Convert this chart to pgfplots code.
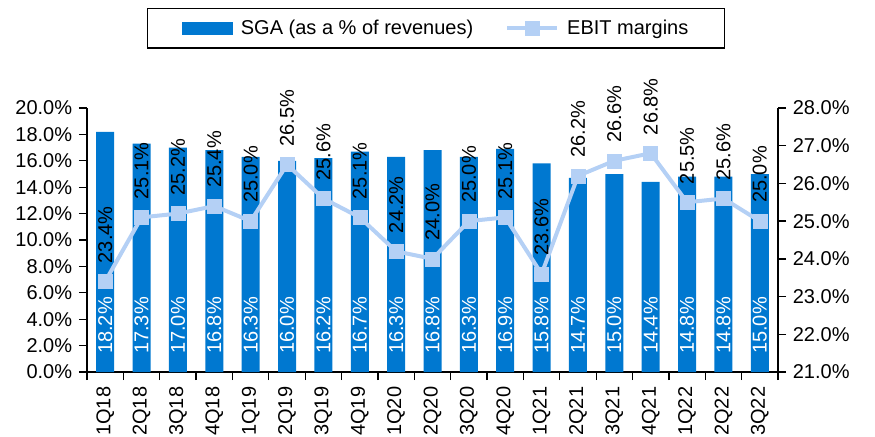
\documentclass[border=0pt]{standalone}
\usepackage{fontspec}
\setmainfont{Liberation Sans}
\usepackage{pgfplots}
\pgfplotsset{compat=1.18}
\definecolor{sgablue}{RGB}{0,120,208}
\definecolor{ebitblue}{RGB}{180,208,245}

\pgfplotsset{
  base/.style={
    at={(0,0)}, anchor=south west,
    scale only axis, width=691bp, height=264bp,
    xmin=-0.5, xmax=18.5,
    /pgf/number format/assume math mode=true,
    tick align=outside,
    major tick length=8bp,
    axis line style={line width=1.3bp},
    tick style={black, line width=1.3bp},
    tick label style={font=\fontsize{20bp}{24bp}\selectfont},
  },
  ebit legend/.style={
    legend image code/.code={\draw[mark repeat=2, mark phase=2, ##1] plot coordinates {(0bp,0bp) (25bp,0bp) (50bp,0bp)};}
  },
  bar legend/.style={
    legend image code/.code={\fill[sgablue] (0bp,-6bp) rectangle (50bp,6bp);}
  },
}

\begin{document}
\fontsize{20bp}{24bp}\selectfont
\begin{tikzpicture}
\useasboundingbox (-87bp,-65bp) rectangle (788bp,372bp);
\begin{axis}[base,
  axis x line*=bottom, axis y line*=left,
  ymin=0, ymax=20, ytick={0,2,...,20},
  yticklabel={\pgfmathprintnumber[fixed,fixed zerofill,precision=1]{\tick}\%},
  xtick={0,...,18},
  xticklabels={1Q18,2Q18,3Q18,4Q18,1Q19,2Q19,3Q19,4Q19,1Q20,2Q20,3Q20,4Q20,1Q21,2Q21,3Q21,4Q21,1Q22,2Q22,3Q22},
  xticklabel style={rotate=90, anchor=east},
  xtick style={/pgfplots/major tick length=0pt},
  minor xtick={-0.5,0.5,...,18.5},
  minor tick length=8bp,
]
% SGA bars
\addplot[ybar, bar width=18bp, bar shift=0pt, fill=sgablue, draw=none] coordinates {
  (0,18.2) (1,17.3) (2,17.0) (3,16.8) (4,16.3) (5,16.0) (6,16.2) (7,16.7) (8,16.3) (9,16.8)
  (10,16.3) (11,16.9) (12,15.8) (13,14.7) (14,15.0) (15,14.4) (16,14.8) (17,14.8) (18,15.0)
};
% white labels at the foot of the bars
\addplot[draw=none, mark=none, point meta=explicit,
  nodes near coords={\pgfmathprintnumber[fixed,fixed zerofill,precision=1]{\pgfplotspointmeta}\%},
  every node near coord/.append style={rotate=90, anchor=west, inner xsep=18bp, text=white,
    font=\fontsize{20bp}{24bp}\selectfont}] coordinates {
  (0,0) [18.2] (1,0) [17.3] (2,0) [17.0] (3,0) [16.8] (4,0) [16.3] (5,0) [16.0] (6,0) [16.2]
  (7,0) [16.7] (8,0) [16.3] (9,0) [16.8] (10,0) [16.3] (11,0) [16.9] (12,0) [15.8] (13,0) [14.7]
  (14,0) [15.0] (15,0) [14.4] (16,0) [14.8] (17,0) [14.8] (18,0) [15.0]
};
\end{axis}

\begin{axis}[base,
  axis x line=none, axis y line*=right,
  ymin=21, ymax=28, ytick={21,...,28},
  yticklabel={\pgfmathprintnumber[fixed,fixed zerofill,precision=1]{\tick}\%},
  legend columns=2,
  legend style={at={(0.505,1.379)}, anchor=north, draw=black, line width=1.3bp,
    font=\fontsize{20bp}{24bp}\selectfont, inner xsep=34bp, inner ysep=9bp,
    /tikz/every even column/.append style={column sep=30bp}},
]
\addlegendimage{bar legend}
\addlegendentry{\hspace{6bp}SGA (as a \% of revenues)}
\addplot[color=ebitblue, line width=4bp, mark=square*, mark size=7bp,
  mark options={fill=ebitblue, draw=ebitblue, line width=0.5bp},
  nodes near coords={\pgfmathprintnumber[fixed,fixed zerofill,precision=1]{\pgfplotspointmeta}\%},
  every node near coord/.append style={rotate=90, anchor=west, inner xsep=18bp, text=black,
    font=\fontsize{20bp}{24bp}\selectfont},
  ebit legend
] coordinates {
  (0,23.4) (1,25.1) (2,25.2) (3,25.4) (4,25.0) (5,26.5) (6,25.6) (7,25.1) (8,24.2) (9,24.0)
  (10,25.0) (11,25.1) (12,23.6) (13,26.2) (14,26.6) (15,26.8) (16,25.5) (17,25.6) (18,25.0)
};
\addlegendentry{\hspace{6bp}EBIT margins}
\end{axis}
\end{tikzpicture}
\end{document}
